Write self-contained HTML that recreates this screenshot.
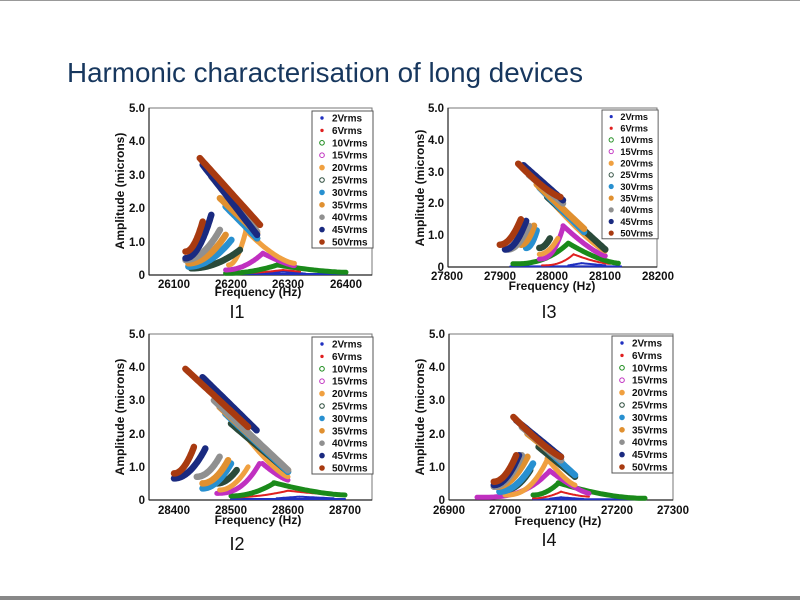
<!DOCTYPE html>
<html><head><meta charset="utf-8"><style>
html,body{margin:0;padding:0;background:#fff;}
svg{display:block;font-family:"Liberation Sans",Arial,sans-serif;}
.t{font-weight:bold;font-size:11.5px;fill:#111;}
.lg{font-weight:bold;font-size:10px;fill:#111;}
</style></head><body>
<svg id="s" width="800" height="600" viewBox="0 0 800 600">
<rect x="0" y="0" width="800" height="600" fill="#fff"/>
<line x1="0" y1="0.5" x2="800" y2="0.5" stroke="#999" stroke-width="1"/>
<rect x="0" y="596" width="800" height="4" fill="#888"/>
<text x="67" y="82" font-size="27.5" fill="#17375e" textLength="516" lengthAdjust="spacingAndGlyphs">Harmonic characterisation of long devices</text>

<g fill="none" stroke="#777" stroke-width="1">
<rect x="149" y="108" width="223" height="167"/>
<rect x="149" y="334" width="223" height="166"/>
<rect x="448" y="108" width="209" height="159"/>
<rect x="449" y="334" width="224" height="166"/>
</g>
<g stroke="#222" stroke-width="1.2">
<line x1="149" y1="108" x2="149" y2="275"/><line x1="149" y1="275" x2="372" y2="275"/>
<line x1="149" y1="334" x2="149" y2="500"/><line x1="149" y1="500" x2="372" y2="500"/>
<line x1="448" y1="108" x2="448" y2="267"/><line x1="448" y1="267" x2="657" y2="267"/>
<line x1="449" y1="334" x2="449" y2="500"/><line x1="449" y1="500" x2="673" y2="500"/>
</g>

<g class="t" text-anchor="end">
<text x="145" y="112">5.0</text><text x="145" y="145">4.0</text><text x="145" y="179">3.0</text><text x="145" y="212">2.0</text><text x="145" y="246">1.0</text><text x="145" y="279">0</text>
<text x="145" y="338">5.0</text><text x="145" y="371">4.0</text><text x="145" y="404">3.0</text><text x="145" y="438">2.0</text><text x="145" y="471">1.0</text><text x="145" y="504">0</text>
<text x="444" y="112">5.0</text><text x="444" y="144">4.0</text><text x="444" y="176">3.0</text><text x="444" y="207">2.0</text><text x="444" y="239">1.0</text><text x="444" y="271">0</text>
<text x="445" y="338">5.0</text><text x="445" y="371">4.0</text><text x="445" y="404">3.0</text><text x="445" y="438">2.0</text><text x="445" y="471">1.0</text><text x="445" y="504">0</text>
</g>
<g class="t" text-anchor="middle">
<text x="174" y="288">26100</text><text x="231" y="288">26200</text><text x="288" y="288">26300</text><text x="346" y="288">26400</text>
<text x="174" y="514">28400</text><text x="231" y="514">28500</text><text x="288" y="514">28600</text><text x="345" y="514">28700</text>
<text x="447" y="280">27800</text><text x="500" y="280">27900</text><text x="552" y="280">28000</text><text x="605" y="280">28100</text><text x="658" y="280">28200</text>
<text x="449" y="514">26900</text><text x="505" y="514">27000</text><text x="561" y="514">27100</text><text x="617" y="514">27200</text><text x="673" y="514">27300</text>
<text x="258" y="296" font-size="12">Frequency (Hz)</text>
<text x="258" y="524" font-size="12">Frequency (Hz)</text>
<text x="552" y="290" font-size="12">Frequency (Hz)</text>
<text x="558" y="525" font-size="12">Frequency (Hz)</text>
<text transform="translate(124,191) rotate(-90)" font-size="12">Amplitude (microns)</text>
<text transform="translate(124,417) rotate(-90)" font-size="12">Amplitude (microns)</text>
<text transform="translate(424,188) rotate(-90)" font-size="12">Amplitude (microns)</text>
<text transform="translate(424,417) rotate(-90)" font-size="12">Amplitude (microns)</text>
</g>
<g font-size="18" fill="#111" text-anchor="middle">
<text x="237" y="318">I1</text><text x="549" y="318">I3</text>
<text x="237" y="550">I2</text><text x="549" y="546">I4</text>
</g>

<g id="curves"></g>

<g transform="translate(312,111)">
<rect x="0" y="0" width="61" height="137" fill="#fff" stroke="#555"/>
<g class="lg"><text x="20" y="10.5">2Vrms</text><text x="20" y="22.9">6Vrms</text><text x="20" y="35.3">10Vrms</text><text x="20" y="47.7">15Vrms</text><text x="20" y="60.1">20Vrms</text><text x="20" y="72.5">25Vrms</text><text x="20" y="84.9">30Vrms</text><text x="20" y="97.3">35Vrms</text><text x="20" y="109.7">40Vrms</text><text x="20" y="122.1">45Vrms</text><text x="20" y="134.5">50Vrms</text></g>
<g class="mk"></g></g>
<g transform="translate(312,337)">
<rect x="0" y="0" width="61" height="137" fill="#fff" stroke="#555"/>
<g class="lg"><text x="20" y="10.5">2Vrms</text><text x="20" y="22.9">6Vrms</text><text x="20" y="35.3">10Vrms</text><text x="20" y="47.7">15Vrms</text><text x="20" y="60.1">20Vrms</text><text x="20" y="72.5">25Vrms</text><text x="20" y="84.9">30Vrms</text><text x="20" y="97.3">35Vrms</text><text x="20" y="109.7">40Vrms</text><text x="20" y="122.1">45Vrms</text><text x="20" y="134.5">50Vrms</text></g>
<g class="mk"></g></g>
<g transform="translate(602,110) scale(0.92,0.94)">
<rect x="0" y="0" width="61" height="137" fill="#fff" stroke="#555"/>
<g class="lg"><text x="20" y="10.5">2Vrms</text><text x="20" y="22.9">6Vrms</text><text x="20" y="35.3">10Vrms</text><text x="20" y="47.7">15Vrms</text><text x="20" y="60.1">20Vrms</text><text x="20" y="72.5">25Vrms</text><text x="20" y="84.9">30Vrms</text><text x="20" y="97.3">35Vrms</text><text x="20" y="109.7">40Vrms</text><text x="20" y="122.1">45Vrms</text><text x="20" y="134.5">50Vrms</text></g>
<g class="mk"></g></g>
<g transform="translate(612,336)">
<rect x="0" y="0" width="61" height="137" fill="#fff" stroke="#555"/>
<g class="lg"><text x="20" y="10.5">2Vrms</text><text x="20" y="22.9">6Vrms</text><text x="20" y="35.3">10Vrms</text><text x="20" y="47.7">15Vrms</text><text x="20" y="60.1">20Vrms</text><text x="20" y="72.5">25Vrms</text><text x="20" y="84.9">30Vrms</text><text x="20" y="97.3">35Vrms</text><text x="20" y="109.7">40Vrms</text><text x="20" y="122.1">45Vrms</text><text x="20" y="134.5">50Vrms</text></g>
<g class="mk"></g></g>
</svg>
<script>
var C=['#2030c0','#e02020','#1a8a1a','#c030c0','#f0a040','#2a4a3a','#2890d0','#e09030','#909090','#1a2a80','#a83a10'];
var NS='http://www.w3.org/2000/svg';
function el(t,a,p){var e=document.createElementNS(NS,t);for(var k in a)e.setAttribute(k,a[k]);p.appendChild(e);return e;}
var charts=[
{f0:26050,f1:26450,x0:145.4,x1:374.6,y0:275,y1:108,s:[
[0,26200,0.03,26400,0.03,1],[0,26260,0.05,26290,0.1,1],[0,26290,0.1,26330,0.04,1],
[1,26200,0.05,26290,0.15,2],[1,26290,0.15,26320,0.1,1],
[2,26190,0.05,26280,0.3,2],[2,26280,0.3,26400,0.08,-1.5],
[3,26190,0.15,26255,0.65,2],[3,26255,0.65,26310,0.28,-1.3],
[4,26195,0.3,26225,1.3,2],[4,26225,1.35,26310,0.35,-1.5],
[5,26130,0.2,26215,0.75,2],[5,26195,2.0,26245,1.1,1],
[6,26125,0.25,26200,1.05,2],[6,26190,2.05,26245,1.1,1],
[7,26125,0.35,26190,1.2,2],[7,26180,2.3,26245,1.25,1],
[8,26120,0.45,26180,1.35,2],[8,26165,2.95,26245,1.3,1],
[9,26120,0.5,26165,1.8,2],[9,26150,3.3,26245,1.2,1],
[10,26120,0.7,26150,1.6,2],[10,26145,3.5,26250,1.5,1]]},
{f0:28350,f1:28750,x0:145.5,x1:373.5,y0:500,y1:334,s:[
[0,28500,0.03,28700,0.03,1],[0,28580,0.05,28620,0.1,1],[0,28620,0.1,28680,0.05,1],
[1,28500,0.08,28600,0.28,2],[1,28600,0.28,28700,0.15,-1.5],
[2,28500,0.12,28575,0.5,2],[2,28575,0.52,28700,0.15,-1.5],
[3,28475,0.2,28550,1.1,2.5],[3,28555,1.1,28600,0.6,-1.3],
[4,28480,0.3,28530,1.0,2],[4,28525,1.95,28600,0.7,-1.3],
[5,28475,0.5,28510,0.9,2],[5,28500,2.3,28600,0.85,1],
[6,28450,0.35,28500,1.1,2],[6,28490,2.6,28600,0.85,1],
[7,28450,0.5,28495,1.2,2],[7,28480,2.8,28600,0.9,1],
[8,28440,0.7,28480,1.3,2],[8,28470,3.0,28600,0.9,1],
[9,28400,0.65,28455,1.55,2],[9,28450,3.7,28545,2.1,1],
[10,28400,0.8,28435,1.6,2],[10,28420,3.95,28530,2.2,1]]},
{f0:27800,f1:28200,x0:447,x1:658,y0:267,y1:108,s:[
[0,27920,0.02,28130,0.02,1],[0,28030,0.05,28055,0.12,1],[0,28055,0.12,28100,0.05,1],
[1,27980,0.05,28040,0.4,2.5],[1,28040,0.4,28110,0.1,-1.5],
[2,27925,0.1,28030,0.75,2.5],[2,28030,0.75,28125,0.12,-1.5],
[3,27975,0.25,28020,1.25,2.5],[3,28020,1.3,28100,0.35,-1.3],
[4,27975,0.4,28010,0.9,2],[4,27985,2.3,28100,0.5,-1.2],
[5,27975,0.6,27995,0.9,2],[5,27990,2.2,28100,0.55,1],
[6,27950,0.6,27970,1.15,2],[6,27975,2.5,28060,1.1,1],
[7,27940,0.7,27965,1.3,2],[7,27970,2.6,28060,1.2,1],
[8,27915,0.55,27955,1.3,2],[8,27955,2.9,28020,2.0,1],
[9,27910,0.55,27950,1.45,2],[9,27945,3.2,28020,2.1,1],
[10,27900,0.7,27940,1.5,2],[10,27935,3.25,28015,2.2,-1.3]]},
{f0:26900,f1:27300,x0:449,x1:673,y0:500,y1:334,s:[
[0,27050,0.02,27250,0.02,1],[0,27080,0.04,27100,0.08,1],[0,27100,0.08,27140,0.03,1],
[1,27050,0.05,27100,0.25,2],[1,27100,0.25,27150,0.1,-1.5],
[2,27050,0.15,27095,0.5,2],[2,27095,0.52,27250,0.05,-1.8],
[3,26950,0.08,27080,0.88,3],[3,27080,0.88,27150,0.2,-1.3],
[4,27000,0.15,27075,1.2,2.5],[4,27075,1.25,27125,0.45,-1.3],
[5,27000,0.3,27045,0.9,2],[5,27060,1.6,27125,0.7,1],
[6,26990,0.25,27050,1.1,2],[6,27050,1.9,27125,0.75,1],
[7,26985,0.4,27040,1.3,2],[7,27040,2.0,27100,1.2,1],
[8,26980,0.4,27030,1.35,2],[8,27030,2.2,27100,1.2,1],
[9,26980,0.45,27025,1.35,2],[9,27020,2.4,27100,1.3,1],
[10,26980,0.55,27020,1.35,2],[10,27015,2.5,27100,1.3,-1.2]]}];
var g=document.getElementById('curves');
charts.forEach(function(c){
 c.s.forEach(function(s,idx){
  var pts=[];for(var i=0;i<=30;i++){var t=i/30,p=s[5];var gg=p>0?Math.pow(t,p):1-Math.pow(1-t,-p);
   var f=s[1]+(s[3]-s[1])*t,a=s[2]+(s[4]-s[2])*gg;
   pts.push(((f-c.f0)/(c.f1-c.f0)*(c.x1-c.x0)+c.x0).toFixed(1)+','+(c.y0+(c.y1-c.y0)*a/5).toFixed(1));}
  var w=s[0]<2?2:(s[0]>=5?6.5:5);
  el('polyline',{points:pts.join(' '),fill:'none',stroke:C[s[0]],'stroke-width':w,'stroke-linecap':'round','stroke-linejoin':'round'},g);
 });
});
document.querySelectorAll('.mk').forEach(function(m){
 for(var i=0;i<11;i++){var y=7+i*12.4;el('circle',{cx:10,cy:y,r:i<2?1.2:2.3,fill:(i==2||i==3||i==5)?'none':C[i],stroke:C[i],'stroke-width':1},m);}
});
</script>
</body></html>
